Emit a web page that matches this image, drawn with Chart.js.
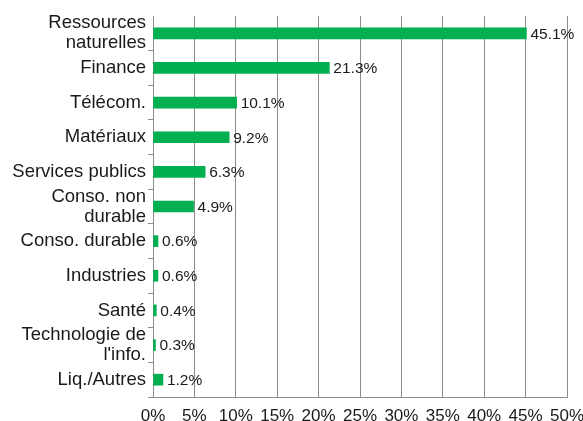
<!DOCTYPE html>
<html>
<head>
<meta charset="utf-8">
<script src="https://cdn.jsdelivr.net/npm/chart.js@4/dist/chart.umd.min.js"></script>
<style>
  html, body { margin: 0; padding: 0; background: #fff; }
  #wrap { width: 583px; height: 421px; }
</style>
</head>
<body>
<div id="wrap"><canvas id="c"></canvas></div>
<script>
// sector weights (%)
const categories = [
  ['Ressources', 'naturelles'], 'Finance', 'Télécom.', 'Matériaux', 'Services publics',
  ['Conso. non', 'durable'], 'Conso. durable', 'Industries', 'Santé',
  ['Technologie de', "l'info."], 'Liq./Autres'
];
const weights = [45.1, 21.3, 10.1, 9.2, 6.3, 4.9, 0.6, 0.6, 0.4, 0.3, 1.2];
const xTicks = [0, 5, 10, 15, 20, 25, 30, 35, 40, 45, 50];

const GRID = '#8c8c8c';
const FONT = "Arial, 'Liberation Sans', sans-serif";

// draws "45.1%" etc. just right of each bar
const valueLabels = {
  id: 'valueLabels',
  afterDatasetsDraw(chart) {
    const ctx = chart.ctx;
    const meta = chart.getDatasetMeta(0);
    ctx.save();
    ctx.font = '15.5px ' + FONT;
    ctx.fillStyle = '#1a1a1a';
    ctx.textAlign = 'left';
    ctx.textBaseline = 'middle';
    meta.data.forEach((bar, i) => {
      const v = chart.data.datasets[0].data[i];
      ctx.fillText(v.toFixed(1) + '%', bar.x + 4, bar.y + 1);
    });
    ctx.restore();
  }
};

new Chart(document.getElementById('c'), {
  type: 'bar',
  data: {
    labels: categories,
    datasets: [{
      data: weights,
      backgroundColor: '#00b050',
      borderWidth: 0,
      barThickness: 11
    }]
  },
  options: {
    indexAxis: 'y',
    responsive: true,
    maintainAspectRatio: false,
    animation: false,
    layout: { padding: { top: 16, right: 16, left: 0, bottom: 0 } },
    plugins: { legend: { display: false }, tooltip: { enabled: false } },
    scales: {
      x: {
        min: 0, max: 50,
        afterBuildTicks: axis => { axis.ticks = xTicks.map(v => ({ value: v })); },
        afterFit: axis => { axis.height = 24; axis.paddingLeft = 0; axis.paddingRight = 0; },
        grid: { color: GRID, lineWidth: 1, drawTicks: false },
        border: { color: GRID, width: 1 },
        ticks: {
          padding: 9,
          maxRotation: 0,
          color: '#1a1a1a',
          font: { family: FONT, size: 17 },
          callback: v => v + '%'
        }
      },
      y: {
        afterFit: axis => { axis.width = 153; },
        grid: {
          offset: true,
          drawOnChartArea: false,
          tickLength: 5,
          color: c => (c.index === 0 || c.index === categories.length) ? 'rgba(0,0,0,0)' : GRID
        },
        border: { color: GRID, width: 1 },
        ticks: {
          padding: 2,
          color: '#1a1a1a',
          font: { family: FONT, size: 18.5, lineHeight: 1.08 },
          autoSkip: false
        }
      }
    }
  },
  plugins: [valueLabels]
});
</script>
</body>
</html>
